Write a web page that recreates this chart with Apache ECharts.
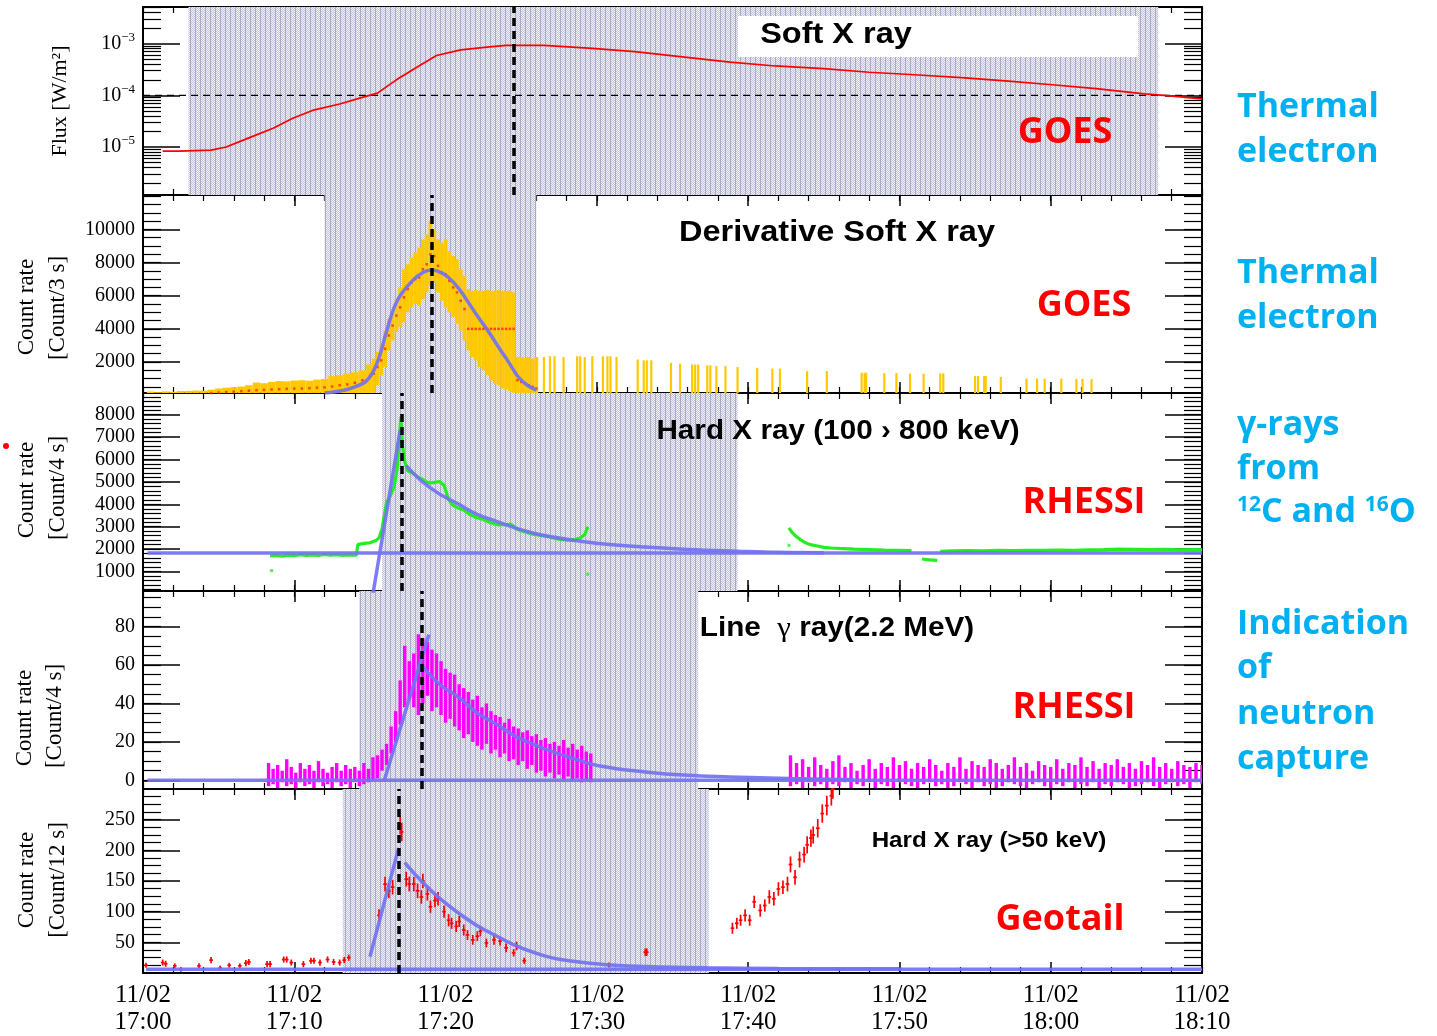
<!DOCTYPE html>
<html><head><meta charset="utf-8">
<script src="https://cdn.jsdelivr.net/npm/echarts@6/dist/echarts.min.js"></script>
<style>html,body{margin:0;padding:0;background:#fff}#c{width:1437px;height:1036px}</style>
</head><body><div id="c"></div>
<script>
// ================= DATA (minutes after 11/02 17:00) =================
const timeTicks = [0,10,20,30,40,50,60,70];

// Panel 1 : GOES soft X-ray flux [W/m^2]
const sxrTime = [1.3,2.4,4.5,5.5,7.0,8.6,9.9,11.2,13.0,14.5,15.5,16.7,18.1,19.4,21.0,22.9,24.0,26.5,29.7,32.5,35.8,38.8,41.8,45.0,48.0,51.0,54.1,57.0,60.1,63.0,66.2,67.5,70.0];
const sxrFlux = [8.3e-6,8.3e-6,8.7e-6,1.0e-5,1.5e-5,2.3e-5,3.6e-5,5.1e-5,6.8e-5,9.1e-5,1.1e-4,1.95e-4,3.5e-4,5.9e-4,7.6e-4,8.7e-4,9.3e-4,9.3e-4,8.1e-4,7.0e-4,5.5e-4,4.4e-4,3.7e-4,3.3e-4,2.8e-4,2.5e-4,2.2e-4,1.9e-4,1.6e-4,1.35e-4,1.07e-4,1.0e-4,8.5e-5];
const sxrThresholdTime = [0,70];
const sxrThreshold = [1e-4,1e-4];

// Panel 2 : derivative of soft X-ray (GOES)
const dsxTime = [0.5,1.0,1.5,2.0,2.5,3.0,3.5,4.0,4.5,5.0,
  5.5,6.0,6.5,7.0,7.5,8.0,8.5,9.0,9.5,10.0,
  10.5,11.0,11.5,12.0,12.5,13.0,13.5,14.0,14.5,15.0,
  15.25,15.5,15.75,16.0,16.25,16.5,16.75,17.0,17.25,17.5,
  17.75,18.0,18.25,18.5,18.75,19.0,19.25,19.5,19.75,20.0,
  20.25,20.5,20.75,21.0,21.25,21.5,21.75,22.0,22.25,22.5,
  22.75,23.0,23.25,23.5,23.75,24.0,24.25,24.5,24.75,25.0,
  25.25,25.5,25.75,26.0];
const dsxLow = [0,0,0,0,0,0,0,0,0,0,
  0,0,0,0,0,0,0,0,0,0,
  0,0,0,0,0,0,0,0,0,0,
  150,600,1200,1700,2700,3300,3800,4100,4400,5000,
  5300,5500,5400,5800,6200,6600,6800,6200,5700,5300,
  5000,4700,4300,3900,3300,2700,2300,2100,1700,1500,
  1200,900,700,600,400,350,250,150,0,0,
  0,0,0,0];
const dsxHigh = [220,180,230,200,250,260,280,270,330,400,
  450,480,520,600,760,720,800,850,830,880,
  900,870,940,980,1150,1200,1300,1380,1500,1850,
  2200,2600,3000,3900,4600,5000,5800,6500,7600,7900,
  8300,8600,8900,9400,9700,10500,10000,9400,9200,9400,
  8700,8400,8200,7600,7200,6400,6300,6350,6300,6300,
  6350,6300,6300,6350,6300,6300,6300,6200,2300,2300,
  2250,2300,2200,2300];
const dsxMid = [60,50,70,60,80,90,100,110,130,160,
  190,210,240,270,300,320,340,360,380,400,
  400,420,450,470,520,600,650,750,900,1100,
  1300,1700,2100,2800,3600,4200,4800,5300,5900,6400,
  6800,7000,7100,7600,7900,8500,8400,7800,7400,7300,
  6900,6500,6200,5700,5200,4000,4000,4000,4000,4000,
  4000,4000,4000,4000,4000,4000,4000,4000,900,800,
  700,600,500,400];
const dsxSparseTime = [26.5,26.9,27.2,27.8,28.7,28.9,29.2,29.7,30.4,30.7,
  30.9,31.3,32.7,33.1,33.3,33.6,34.9,35.5,36.3,36.5,
  36.7,37.3,37.5,37.9,38.5,39.3,40.6,41.6,42.1,43.9,
  45.2,47.5,47.7,47.8,49.0,49.8,50.7,51.6,52.7,52.9,
  55.0,55.2,55.6,55.7,56.7,58.4,59.1,59.6,60.7,61.7,
  62.1,62.7];
const dsxSparseHigh = [2300,2350,2350,2300,2350,2350,2300,2350,2350,2350,
  2350,2300,2150,2100,2100,2100,1950,1900,1850,1850,
  1850,1800,1800,1750,1750,1700,1650,1600,1600,1450,
  1450,1350,1350,1350,1330,1330,1300,1300,1320,1320,
  1150,1150,1150,1150,1100,1000,1000,1000,1000,980,
  980,970];
const dsxFitTime = [12.0,13.3,14.0,14.7,15.2,15.6,16.1,16.8,17.8,18.5,19.1,19.7,20.2,20.9,21.5,22.2,22.9,23.5,24.2,24.8,25.4,26.0];
const dsxFit     = [130,300,500,800,1400,2240,3850,5700,6900,7400,7550,7400,7100,6400,5600,4650,3750,2900,1950,1110,600,310];

// Panel 3 : RHESSI hard X-ray 100-800 keV
const hxrTime = [8.4,8.8,9.2,9.6,10.0,10.4,10.8,11.2,11.6,12.0,12.4,12.8,13.2,13.6,14.1,
  14.2,14.6,15.0,15.4,15.6,15.8,15.9,16.1,16.3,16.6,16.8,16.95,17.05,17.15,17.3,17.5,17.8,18.1,18.4,18.7,
  19.0,19.3,19.6,19.9,20.2,20.5,20.8,21.2,21.6,22.0,22.5,23.0,23.5,24.0,24.3,24.7,25.2,25.7,26.2,26.8,
  27.4,28.0,28.5,28.9,29.2,29.4,
  36.0,
  42.7,42.9,43.2,43.5,43.8,44.1,44.5,45.0,45.5,46.0,47.0,48.0,49.0,50.0,50.8,
  51.1,51.5,52.0,52.5,52.6,
  52.7,53.5,54.5,55.5,56.5,57.5,58.5,59.5,60.5,61.5,62.5,63.5,64.5,65.5,66.5,67.5,68.5,69.5,70.0];
const hxrRate = [1700,1720,1690,1730,1710,1750,1720,1740,1720,1760,1730,1750,1720,1740,1730,
  2200,2260,2280,2380,2500,2900,3300,4100,4300,4800,5600,7000,7900,6600,5900,5500,5400,5250,5150,5000,
  4950,4980,5020,4850,4200,3950,3850,3750,3550,3420,3320,3180,3080,3100,3120,2900,2780,2680,2620,2550,
  2450,2400,2420,2500,2650,3000,
  null,
  2950,2750,2550,2400,2280,2200,2150,2080,2050,2030,2000,1980,1960,1950,1930,
  null,1560,1520,1500,null,
  1900,1920,1930,1920,1940,1930,1950,1940,1960,1950,1970,1980,2000,1990,1980,1990,1970,1980,1970];
const hxrOutTime = [8.5,29.4,42.7];
const hxrOutRate = [1040,880,2170];
const hxrBaseTime = [0.3,70.0];   const hxrBase = [1830,1830];
const hxrRiseTime = [15.2,17.0];  const hxrRise = [0,7320];
const hxrDecayTime = [17.4,18.4,19.5,20.9,22.0,23.4,24.6,25.9,27.2,28.4,30.3,33.2,36.0,39.3,42.0,45.0];
const hxrDecay     = [5730,5050,4500,3990,3580,3230,2950,2700,2530,2400,2240,2090,1985,1910,1860,1840];

// Panel 4 : RHESSI 2.2 MeV line
const lgTime = [8.3,8.6,8.9,9.2,9.5,9.8,10.1,10.4,10.7,11.0,
  11.3,11.6,11.9,12.2,12.5,12.8,13.1,13.4,13.7,14.0,
  14.3,14.6,14.9,15.2,15.5,15.8,16.1,16.4,16.7,17.0,
  17.3,17.6,17.9,18.2,18.5,18.8,19.1,19.4,19.7,20.0,
  20.3,20.6,20.9,21.2,21.5,21.8,22.1,22.4,22.7,23.0,
  23.3,23.6,23.9,24.2,24.5,24.8,25.1,25.4,25.7,26.0,
  26.3,26.6,26.9,27.2,27.5,27.8,28.1,28.4,28.7,29.0,
  29.3,29.6,
  42.8,43.2,43.6,44.0,44.4,44.8,45.2,45.6,46.0,46.4,
  46.8,47.2,47.6,48.0,48.4,48.8,49.2,49.6,50.0,50.4,
  50.8,51.2,51.6,52.0,52.4,52.8,53.2,53.6,54.0,54.4,
  54.8,55.2,55.6,56.0,56.4,56.8,57.2,57.6,58.0,58.4,
  58.8,59.2,59.6,60.0,60.4,60.8,61.2,61.6,62.0,62.4,
  62.8,63.2,63.6,64.0,64.4,64.8,65.2,65.6,66.0,66.4,
  66.8,67.2,67.6,68.0,68.4,68.8,69.2,69.6,70.0];
const lgLow = [-3,-2,-4,-1,-3,-2,-4,-1,-3,-2,
  -4,-1,-3,-2,-4,-1,-3,-2,-4,-1,
  -3,-2,-1,0,1,5,8,14,20,29,
  38,42,38,34,40,44,36,38,34,30,
  32,28,26,22,24,20,18,16,19,14,
  16,12,14,10,11,8,10,6,8,4,
  5,2,4,1,3,0,2,0,1,-1,
  0,-1,
  -3,-2,-4,-1,-3,-2,-4,-2,-3,-1,
  -4,-2,-3,-1,-4,-2,-3,-4,-1,-2,
  -3,-4,-2,-1,-3,-2,-4,-3,-1,-2,
  -4,-1,-3,-2,-4,-3,-1,-2,-3,-4,
  -2,-1,-3,-4,-2,-3,-1,-4,-2,-3,
  -1,-4,-2,-3,-1,-2,-4,-3,-2,-1,
  -3,-4,-2,-1,-3,-2,-4,-1,-2];
const lgHigh = [9,6,8,5,11,7,4,9,6,8,
  5,10,6,4,7,9,5,8,6,7,
  5,9,6,12,13,16,19,28,36,52,
  70,62,66,76,74,72,68,66,62,58,
  56,55,50,48,46,42,44,38,40,36,
  34,33,30,32,28,27,25,26,23,24,
  21,22,19,20,18,21,17,19,16,18,
  15,14,
  13,9,11,7,12,8,6,10,13,7,
  9,5,8,11,6,9,7,12,8,10,
  6,9,7,11,8,5,9,7,12,6,
  10,8,7,11,9,6,8,12,7,9,
  5,10,8,7,11,6,9,8,12,7,
  10,6,9,8,11,7,9,6,10,8,
  12,7,9,6,10,8,7,9,8];
const lgBaseTime = [0.3,70.0];   const lgBase = [0,0];
const lgRiseTime = [15.95,18.9]; const lgRise = [0,75.8];
const lgDecayTime = [18.4,19.6,20.9,22.1,23.4,24.6,25.9,27.2,28.4,30.2,33.2,36.0,38.8,42.7,47.0];
const lgDecay     = [60,50,43,35,29,23,18.4,14.5,11.4,7.5,4.4,2.6,1.8,0.9,0.4];

// Panel 5 : Geotail hard X-ray > 50 keV
const geoTime = [0.2,1.3,1.5,2.1,2.5,3.7,4.5,5.1,5.7,6.4,6.8,7.0,8.2,8.4,9.3,9.5,9.8,10.6,11.1,11.3,11.7,12.2,12.6,13.0,13.3,13.6,
  15.6,16.0,16.25,16.5,17.0,17.1,17.4,17.6,17.9,18.15,18.4,18.5,18.8,19.0,19.3,19.5,19.9,20.2,20.4,20.7,20.9,21.2,21.45,21.8,22.1,22.3,22.7,23.2,23.6,24.0,24.5,24.7,25.2,
  30.8,33.2,33.3,
  38.96,39.25,39.5,39.8,40.1,40.4,40.8,41.1,41.4,41.7,42.0,42.3,42.6,42.8,43.1,43.4,43.7,43.9,44.15,44.3,44.6,44.9,45.2,45.5,45.6];
const geoRate = [12.6,17,15,11.7,6,11.7,21,8,12.6,11.7,16,18,14.4,14.4,22,22,17,14.4,20,20,17,22,18,17,21,25,
  94,145,134,140,241,230,153,145,145,134,124,150,129,108,118,121,100,86,81,76,84,70,62,54,60,68,49,54,52,41,33,44,20,
  13,34,34,
  73,81,86,94,86,116,102,110,124,121,137,140,145,177,156,185,193,209,220,225,236,260,273,289,300];
const geoErr = [4,5,5,4,4,4,5,4,4,4,5,5,5,5,5,5,5,5,5,5,5,5,5,5,5,5,
  10,12,12,12,15,15,12,12,12,12,11,12,11,10,11,11,10,10,9,9,9,9,8,8,8,8,7,8,7,7,6,7,5,
  4,6,6,
  9,9,9,10,9,10,10,10,11,11,11,11,12,13,12,13,13,14,14,14,15,15,16,16,16];
const geoBinHalf = 0.12;
const geoBaseTime = [0.2,70.0];  const geoBase = [6.3,6.3];
const geoRiseTime = [15.0,16.9]; const geoRise = [26.6,204];
const geoDecayTime = [17.3,18.4,19.6,20.9,22.1,23.4,24.6,25.9,27.6,30.4,33.3,37.3,42.0,50.0];
const geoDecay     = [180,150,122,97,77,60,45,33,22,14,10.6,8.4,7.3,6.8];

// analysis windows (shaded) and peak times (dashed)
const shadeStart = [3.0,12.0,15.8,14.3,13.2];
const shadeEnd   = [67.1,26.0,39.3,36.7,37.4];
const peakTime   = [24.5,19.1,17.1,18.4,16.9];

// ================= CHART =================
const zip = (a,b) => a.map((v,i)=>[v,b[i]]);
const BLUE = '#7272f2';
const SERIF = 'Liberation Serif';
const layout = [{top:7,height:188},{top:195,height:198},{top:393,height:198},{top:591,height:198},{top:789,height:187}];

const pat = (function(){
  const c=document.createElement('canvas'); c.width=5; c.height=2;
  const g=c.getContext('2d');
  g.fillStyle='#f1f1f5'; g.fillRect(0,0,5,2);
  g.fillStyle='#c3c4da';
  for(let x=1;x<5;x++) g.fillRect(x,x%2,1,1);
  g.fillStyle='#a9aac8'; g.fillRect(0,0,1,2);
  return c;
})();

function range(a,b,s){const r=[];for(let v=a;v<=b+1e-9;v+=s)r.push(+v.toFixed(4));return r;}
const xMinor = range(0,70,2);

function fmtTime(v){const m=Math.round(v);const h=17+Math.floor(m/60);const mm=m%60;return '11/02\n'+h+':'+String(mm).padStart(2,'0');}

const grids = layout.map(l=>({left:143,right:235,top:l.top,height:l.height,containLabel:false}));
const xAxes=[], yAxes=[];
const AX = {color:'#000',width:2};
layout.forEach((l,i)=>{
  const base = {gridIndex:i,type:'value',min:0,max:70,splitLine:{show:false}};
  xAxes.push(Object.assign({},base,{position:'bottom',axisLine:{show:true,onZero:false,lineStyle:AX},
    axisTick:{show:true,inside:true,length:11,customValues:timeTicks,lineStyle:{color:'#000',width:1.5}},
    axisLabel:{show:i===4,customValues:timeTicks,formatter:fmtTime,fontFamily:SERIF,fontSize:25,color:'#000',lineHeight:27,margin:9}}));
  xAxes.push(Object.assign({},base,{position:'bottom',axisLine:{show:false,onZero:false},
    axisTick:{show:true,inside:true,length:6,customValues:xMinor,lineStyle:{color:'#000',width:1.2}},axisLabel:{show:false}}));
  xAxes.push(Object.assign({},base,{position:'top',axisLine:{show:true,onZero:false,lineStyle:AX},
    axisTick:{show:true,inside:true,length:11,customValues:timeTicks,lineStyle:{color:'#000',width:1.5}},axisLabel:{show:false}}));
  xAxes.push(Object.assign({},base,{position:'top',axisLine:{show:false,onZero:false},
    axisTick:{show:true,inside:true,length:6,customValues:xMinor,lineStyle:{color:'#000',width:1.2}},axisLabel:{show:false}}));
});

// y axes
const yCfg = [
  null,
  {min:130,max:12080,labels:[2000,4000,6000,8000,10000],minor:range(500,12000,500)},
  {min:130,max:8970,labels:[1000,2000,3000,4000,5000,6000,7000,8000],minor:range(200,8800,200)},
  {min:-4.5,max:98.5,labels:[0,20,40,60,80],minor:range(0,95,5)},
  {min:0,max:300,labels:[50,100,150,200,250],minor:range(12.5,287.5,12.5)}
];
const LOGMIN=-5.93, LOGMAX=-2.29;
const logMinor=[];
for(let d=-6;d<=-3;d++)for(let k=2;k<=9;k++){const e=Math.log10(k)+d;if(e>LOGMIN&&e<LOGMAX)logMinor.push(e);}
const yLab = {fontFamily:SERIF,fontSize:20,color:'#000',margin:8};
layout.forEach((l,i)=>{
  if(i===0){
    ['left','right'].forEach(pos=>{
      yAxes.push({gridIndex:0,type:'log',logBase:10,min:Math.pow(10,LOGMIN),max:Math.pow(10,LOGMAX),position:pos,
        splitLine:{show:false},minorTick:{show:false},axisLine:{show:true,onZero:false,lineStyle:AX},
        axisTick:{show:true,inside:true,length:37,lineStyle:{color:'#000',width:1.5}},
        axisLabel:Object.assign({show:pos==='left',formatter:v=>{const e=Math.log10(v);if(Math.abs(e-Math.round(e))>0.02)return '';return '10{s|\u2212'+Math.abs(Math.round(e))+'}';},
          rich:{s:{fontFamily:SERIF,fontSize:13,padding:[0,0,12,0]}}},yLab)});
      yAxes.push({gridIndex:0,type:'value',min:LOGMIN,max:LOGMAX,position:pos,splitLine:{show:false},
        axisLine:{show:false,onZero:false},axisTick:{show:true,inside:true,length:18,customValues:logMinor,lineStyle:{color:'#000',width:1.2}},axisLabel:{show:false}});
    });
  } else {
    const c=yCfg[i];
    ['left','right'].forEach(pos=>{
      yAxes.push({gridIndex:i,type:'value',min:c.min,max:c.max,position:pos,splitLine:{show:false},
        axisLine:{show:true,onZero:false,lineStyle:AX},
        axisTick:{show:true,inside:true,length:37,customValues:c.labels,lineStyle:{color:'#000',width:1.5}},
        axisLabel:Object.assign({show:pos==='left',customValues:c.labels,formatter:v=>String(v)},yLab)});
      yAxes.push({gridIndex:i,type:'value',min:c.min,max:c.max,position:pos,splitLine:{show:false},
        axisLine:{show:false,onZero:false},axisTick:{show:true,inside:true,length:18,customValues:c.minor,lineStyle:{color:'#000',width:1.2}},axisLabel:{show:false}});
    });
  }
});
const ax = i => ({xAxisIndex:4*i, yAxisIndex:4*i});

function clipRect(r, cs){return echarts.graphic.clipRectByRect(r,{x:cs.x,y:cs.y,width:cs.width,height:cs.height});}
function bandRender(color){
  return function(params, api){
    const t=api.value(0), lo=api.value(1), hi=api.value(2), tp=api.value(3), tn=api.value(4);
    const a=api.coord([(t+tp)/2,hi]), b=api.coord([(t+tn)/2,lo]);
    const s=clipRect({x:a[0],y:a[1],width:b[0]-a[0],height:b[1]-a[1]},params.coordSys);
    return s ? {type:'rect',shape:s,style:{fill:color}} : null;
  };
}
function barRender(color,w){
  return function(params, api){
    const t=api.value(0), lo=api.value(1), hi=api.value(2);
    const a=api.coord([t,hi]), b=api.coord([t,lo]);
    const s=clipRect({x:a[0]-w/2,y:a[1],width:w,height:b[1]-a[1]},params.coordSys);
    return s ? {type:'rect',shape:s,style:{fill:color}} : null;
  };
}
function crossRender(params, api){
  const t=api.value(0), v=api.value(1), e=api.value(2), cs=params.coordSys;
  const c=api.coord([t,v]), up=api.coord([t,v+e]), dn=api.coord([t,v-e]);
  const l=api.coord([t-geoBinHalf,v]), r=api.coord([t+geoBinHalf,v]);
  const y1=Math.max(up[1],cs.y), y2=Math.min(dn[1],cs.y+cs.height);
  const ch=[];
  if(y2>y1) ch.push({type:'line',shape:{x1:c[0],y1:y1,x2:c[0],y2:y2},style:{stroke:'#ff0000',lineWidth:1.7}});
  if(c[1]>=cs.y) ch.push({type:'line',shape:{x1:l[0],y1:c[1],x2:r[0],y2:c[1]},style:{stroke:'#ff0000',lineWidth:1.7}});
  return {type:'group',children:ch};
}
const withNeighbours = (T,L,H) => T.map((t,k)=>{
  const tp = k>0 ? T[k-1] : t-(T[1]-T[0]);
  const tn = k<T.length-1 ? T[k+1] : t+(t-T[k-1]);
  return [t,L[k],H[k],tp,tn];
});

const series=[];
function blueLine(i,T,V,smooth){series.push(Object.assign({type:'line',data:zip(T,V),symbol:'none',smooth:smooth||false,z:4,
  lineStyle:{color:BLUE,width:3.5,opacity:0.92}},ax(i)));}
layout.forEach((l,i)=>{
  series.push(Object.assign({type:'line',data:[],z:1,silent:true,
    markArea:{silent:true,itemStyle:{color:{image:pat,repeat:'repeat'},opacity:1},data:[[{xAxis:shadeStart[i]},{xAxis:shadeEnd[i]}]]}},ax(i)));
  series.push(Object.assign({type:'line',data:[],z:6,silent:true,
    markLine:{silent:true,symbol:'none',label:{show:false},lineStyle:{color:'#000',width:3.5,type:[8,5]},data:[{xAxis:peakTime[i]}]}},ax(i)));
});
// panel 1
series.push(Object.assign({type:'line',data:zip(sxrThresholdTime,sxrThreshold),symbol:'none',z:2,silent:true,
  lineStyle:{color:'#000',width:1.3,type:[7,5]}},ax(0)));
series.push(Object.assign({type:'line',data:zip(sxrTime,sxrFlux),symbol:'none',z:3,lineStyle:{color:'#ff0000',width:1.7}},ax(0)));
// panel 2
series.push(Object.assign({type:'custom',renderItem:bandRender('#ffc800'),data:withNeighbours(dsxTime,dsxLow,dsxHigh),z:3},ax(1)));
series.push(Object.assign({type:'custom',renderItem:barRender('#ffc800',2.2),data:dsxSparseTime.map((t,k)=>[t,0,dsxSparseHigh[k]]),z:3},ax(1)));
series.push(Object.assign({type:'scatter',data:zip(dsxTime,dsxMid),symbol:'rect',symbolSize:2.5,itemStyle:{color:'#ff2a00'},z:3},ax(1)));
blueLine(1,dsxFitTime,dsxFit,0.4);
// panel 3
series.push(Object.assign({type:'line',data:zip(hxrTime,hxrRate),symbol:'none',connectNulls:false,z:3,lineStyle:{color:'#22ee22',width:3.2}},ax(2)));
series.push(Object.assign({type:'scatter',data:zip(hxrOutTime,hxrOutRate),symbol:'rect',symbolSize:3,itemStyle:{color:'#22ee22'},z:3},ax(2)));
blueLine(2,hxrBaseTime,hxrBase);
blueLine(2,hxrRiseTime,hxrRise);
blueLine(2,hxrDecayTime,hxrDecay,0.4);
// panel 4
series.push(Object.assign({type:'custom',renderItem:barRender('#ff00ff',3.4),data:lgTime.map((t,k)=>[t,lgLow[k],lgHigh[k]]),z:3},ax(3)));
blueLine(3,lgBaseTime,lgBase);
blueLine(3,lgRiseTime,lgRise);
blueLine(3,lgDecayTime,lgDecay,0.4);
// panel 5
series.push(Object.assign({type:'custom',renderItem:crossRender,data:geoTime.map((t,k)=>[t,geoRate[k],geoErr[k]]),z:3},ax(4)));
blueLine(4,geoBaseTime,geoBase);
blueLine(4,geoRiseTime,geoRise);
blueLine(4,geoDecayTime,geoDecay,0.4);

// ---------- text graphics ----------
function txt(text,x,y,o){
  const st={text,fill:o.color||'#000',fontSize:o.size,fontWeight:o.weight||'bold',fontFamily:o.family||'Liberation Sans',align:o.align||'center',verticalAlign:'middle'};
  if(o.rich) st.rich=o.rich;
  return {type:'text',x,y,z:100,scaleX:o.sx||1,rotation:o.rot||0,style:st};
}
const RED='#ff0000', CYAN='#00b0f0', OS='Open Sans';
const graphic=[
  {type:'rect',shape:{x:738,y:16,width:400,height:41},style:{fill:'#fff'},z:50},
  txt('Soft X ray',836,35,{size:29,sx:1.12}),
  txt('Derivative Soft X ray',837,233,{size:29,sx:1.12}),
  txt('Hard X ray (100 \u203a 800 keV)',838,432,{size:27,sx:1.1}),
  txt('Line  {g|\u03b3} ray(2.2 MeV)',837,629,{size:27,sx:1.1,rich:{g:{fontFamily:SERIF,fontWeight:'normal',fontSize:28}}}),
  txt('Hard X ray (>50 keV)',989,841,{size:22,sx:1.1}),
  txt('GOES',1065,133,{size:36,color:RED,family:OS}),
  txt('GOES',1084,306,{size:36,color:RED,family:OS}),
  txt('RHESSI',1084,503,{size:36,color:RED,family:OS}),
  txt('RHESSI',1074,708,{size:36,color:RED,family:OS}),
  txt('Geotail',1060,920,{size:36,color:RED,family:OS}),
  txt('Thermal',1237,107,{size:34,color:CYAN,family:OS,align:'left'}),
  txt('electron',1237,152,{size:34,color:CYAN,family:OS,align:'left'}),
  txt('Thermal',1237,273,{size:34,color:CYAN,family:OS,align:'left'}),
  txt('electron',1237,318,{size:34,color:CYAN,family:OS,align:'left'}),
  txt('\u03b3-rays',1237,425,{size:34,color:CYAN,family:OS,align:'left'}),
  txt('from',1237,469,{size:34,color:CYAN,family:OS,align:'left'}),
  txt('{s|12}C and {s|16}O',1237,512,{size:34,color:CYAN,family:OS,align:'left',rich:{s:{fontSize:21,fontWeight:'bold',fontFamily:OS,fill:CYAN,padding:[0,0,14,0]}}}),
  txt('Indication',1237,624,{size:34,color:CYAN,family:OS,align:'left'}),
  txt('of',1237,668,{size:34,color:CYAN,family:OS,align:'left'}),
  txt('neutron',1237,714,{size:34,color:CYAN,family:OS,align:'left'}),
  txt('capture',1237,759,{size:34,color:CYAN,family:OS,align:'left'}),
  // y-axis titles
  txt('Flux [W/m\u00b2]',60,101,{size:22,weight:'normal',family:SERIF,rot:Math.PI/2}),
  txt('Count rate',27,307,{size:23,weight:'normal',family:SERIF,rot:Math.PI/2}),
  txt('[Count/3 s]',58,308,{size:23,weight:'normal',family:SERIF,rot:Math.PI/2}),
  txt('Count rate',27,490,{size:23,weight:'normal',family:SERIF,rot:Math.PI/2}),
  txt('[Count/4 s]',58,488,{size:23,weight:'normal',family:SERIF,rot:Math.PI/2}),
  txt('Count rate',25,718,{size:23,weight:'normal',family:SERIF,rot:Math.PI/2}),
  txt('[Count/4 s]',55,716,{size:23,weight:'normal',family:SERIF,rot:Math.PI/2}),
  txt('Count rate',27,880,{size:23,weight:'normal',family:SERIF,rot:Math.PI/2}),
  txt('[Count/12 s]',58,880,{size:23,weight:'normal',family:SERIF,rot:Math.PI/2}),
  {type:'circle',shape:{cx:6,cy:446,r:3},style:{fill:'#ff0000'},z:100}
];

const chart = echarts.init(document.getElementById('c'),null,{renderer:'canvas'});
chart.setOption({animation:false,backgroundColor:'#fff',grid:grids,xAxis:xAxes,yAxis:yAxes,series,graphic});
</script></body></html>
